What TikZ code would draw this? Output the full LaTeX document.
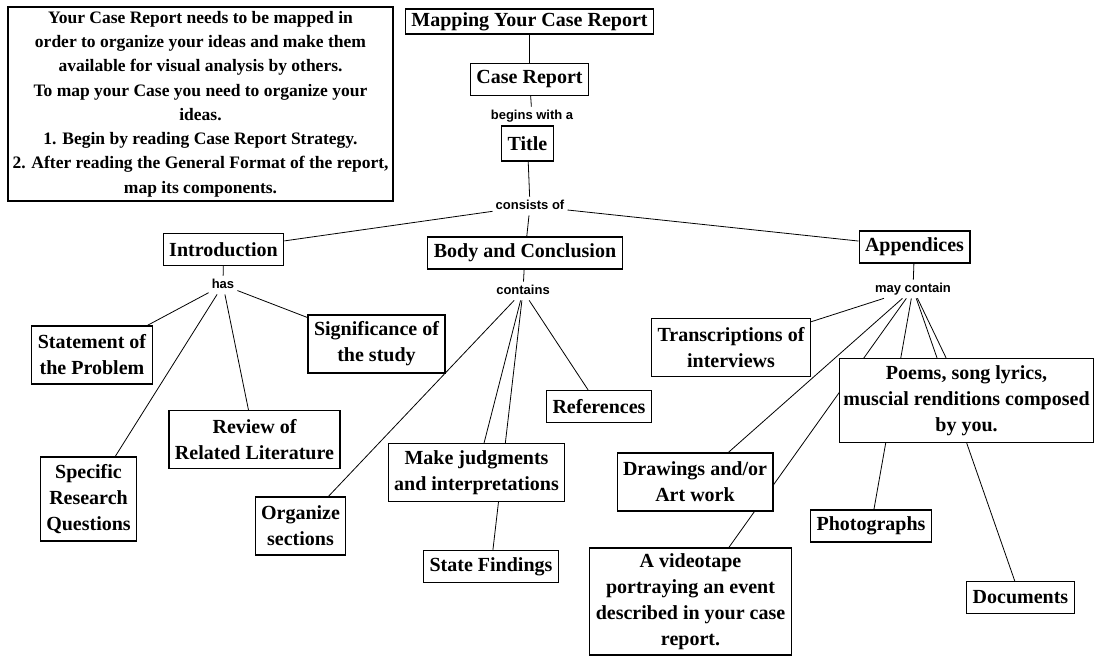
\documentclass[tikz,border=0pt]{standalone}
\usepackage{fontspec}
\setmainfont{Liberation Serif}
\setsansfont{Liberation Sans}
\usetikzlibrary{positioning,backgrounds}

\begin{document}
\begin{tikzpicture}[x=1pt, y=-1pt,
    box/.style={draw, fill=white, line width=1.1pt, align=center, inner xsep=6pt, inner ysep=3pt,
        minimum height=32pt, font=\bfseries\fontsize{20}{26}\selectfont},
    linkword/.style={inner sep=3pt, text height=9.5pt, text depth=2.8pt,
        font=\sffamily\bfseries\fontsize{13}{15}\selectfont},
    link/.style={line width=0.8pt}]
    \useasboundingbox (0,0) rectangle (1098,659);

    \node[draw, line width=1.1pt, align=center, minimum width=385pt, minimum height=194pt,
        font=\bfseries\fontsize{17.5}{24.3}\selectfont] (note) at (200.5,104)
        {Your Case Report needs to be mapped in\\order to organize your ideas and make them\\available for visual analysis by others.\\To map your Case you need to organize your\\ideas.\\1. Begin by reading Case Report Strategy.\\2. After reading the General Format of the report,\\map its components.};

    \node[box, minimum height=25pt] (map) at (529.5,21.5) {Mapping Your Case Report};
    \node[box, below=28pt of map] (case) {Case Report};
    \node[linkword] (begins) at (532,116) {begins with a};
    \node[box, minimum height=35pt] (title) at (527.5,143.5) {Title};
    \node[linkword] (consists) at (530,206) {consists of};

    \node[box] (intro) at (223.5,249.5) {Introduction};
    \node[box] (body) at (525,253) {Body and Conclusion};
    \node[box] (app) at (914.5,247) {Appendices};
    \node[linkword] (has) at (223,285) {has};
    \node[linkword] (contains) at (523,291) {contains};
    \node[linkword] (maycont) at (913,289) {may contain};

    % introduction
    \node[box, minimum height=58pt] (problem) at (92,355) {Statement of\\the Problem};
    \node[box, minimum height=58pt] (signif) at (376.5,344) {Significance of\\the study};
    \node[box, minimum height=58pt] (review) at (254.5,439.5) {Review of\\Related Literature};
    \node[box, minimum height=84pt] (questions) at (88.5,499) {Specific\\Research\\Questions};

    % body
    \node[box, minimum height=58pt] (organize) at (300.5,526) {Organize\\sections};
    \node[box, minimum height=58pt] (judge) at (476.5,472.5) {Make judgments\\and interpretations};
    \node[box] (refs) at (599,406.5) {References};
    \node[box] (findings) at (491,566.5) {State Findings};

    % appendices
    \node[box, minimum height=58pt] (transcr) at (731,347.5) {Transcriptions of\\interviews};
    \node[box, minimum height=84pt, inner xsep=4pt] (poems) at (966.5,400.5) {Poems, song lyrics,\\muscial renditions composed\\by you.};
    \node[box, minimum height=58pt] (drawings) at (695,482) {Drawings and/or\\Art work};
    \node[box] (photos) at (871,526) {Photographs};
    \node[box] (docs) at (1020.5,597.5) {Documents};
    \node[box, minimum height=107pt] (video) at (690.5,601.5) {A videotape\\portraying an event\\described in your case\\report.};

    \begin{scope}[on background layer]
        \draw[link] (map) -- (case);
        \draw[link] (case) -- (begins);
        \draw[link] (begins) -- (title);
        \draw[link] (title) -- (consists);
        \draw[link] (consists) -- (intro);
        \draw[link] (consists) -- (body);
        \draw[link] (consists) -- (app);

        \draw[link] (intro) -- (has);
        \draw[link] (has) -- (problem);
        \draw[link] (has) -- (signif);
        \draw[link] (has) -- (review);
        \draw[link] (has) -- (questions);

        \draw[link] (body) -- (contains);
        \draw[link] (contains) -- (organize);
        \draw[link] (contains) -- (judge);
        \draw[link] (contains) -- (findings);
        \draw[link] (contains) -- (refs);

        \draw[link] (app) -- (maycont);
        \draw[link] (maycont) -- (transcr);
        \draw[link] (maycont) -- (drawings);
        \draw[link] (maycont) -- (video);
        \draw[link] (maycont) -- (photos);
        \draw[link] (maycont) -- (poems);
        \draw[link] (maycont) -- (docs);
    \end{scope}
\end{tikzpicture}
\end{document}
